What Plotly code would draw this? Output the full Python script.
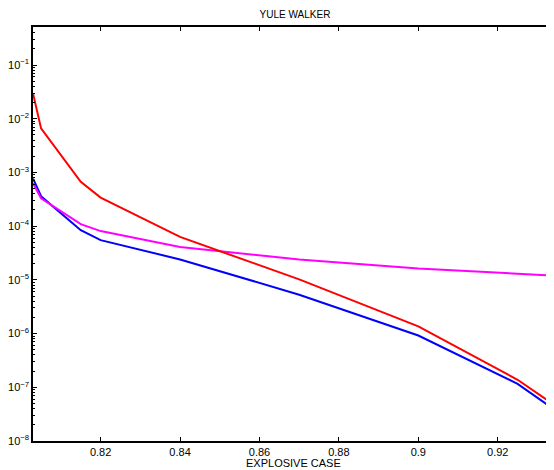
import plotly.graph_objects as go

# x positions
x = [0.803, 0.805, 0.815, 0.82, 0.84, 0.87, 0.9, 0.925, 0.935]

red = [0.029, 0.0066, 6.7e-4, 3.4e-4, 6.3e-5, 1.02e-5, 1.36e-6, 1.38e-7, 4.3e-8]
blue = [7.7e-4, 3.6e-4, 8.4e-5, 5.5e-5, 2.4e-5, 5.3e-6, 9.2e-7, 1.16e-7, 3.5e-8]
magenta = [6.3e-4, 3.3e-4, 1.09e-4, 8.1e-5, 4.1e-5, 2.4e-5, 1.62e-5, 1.31e-5, 1.19e-5]

xticks = [0.82, 0.84, 0.86, 0.88, 0.9, 0.92]
xticklabels = ["0.82", "0.84", "0.86", "0.88", "0.9", "0.92"]
decades = list(range(-8, 0))
yticks = [10.0 ** d for d in decades]
yticklabels = ["10<sup>−%d</sup>" % -d for d in decades]
yminor = [m * 10.0 ** d for d in decades for m in range(2, 10)]

font = dict(family="Liberation Sans, Arial, sans-serif", size=11, color="black")

fig = go.Figure()
for ys, col in [(blue, "#0000ff"), (magenta, "#ff00ff"), (red, "#ff0000")]:
    fig.add_trace(go.Scatter(x=x, y=ys, mode="lines", line=dict(color=col, width=2),
                             showlegend=False))

# invisible trace to activate the right-hand tick axis
fig.add_trace(go.Scatter(x=[x[0]], y=[red[0]], yaxis="y2", mode="lines",
                         showlegend=False, hoverinfo="skip", line=dict(width=0)))

# the page body adds an 8px margin, so the figure is sized to fit inside it
fig.update_layout(
    width=546, height=462,
    margin=dict(l=25, r=0, t=19, b=29),
    paper_bgcolor="white", plot_bgcolor="white",
    font=font,
    title=dict(text="YULE WALKER", x=0.5256, xanchor="center", y=0.987, yanchor="middle",
               font=dict(size=10)),
    xaxis=dict(range=[0.80297, 0.93417], tickvals=xticks, ticktext=xticklabels,
               ticks="inside", ticklen=4, tickcolor="black", showline=True, linecolor="black",
               linewidth=1.5, mirror="ticks", showgrid=False, zeroline=False,
               tickfont=dict(size=11), automargin=False),
    yaxis=dict(type="log", range=[-8, -0.292], tickvals=yticks, ticktext=yticklabels,
               ticks="inside", ticklen=4, tickcolor="black", showline=True, linecolor="black",
               linewidth=1.5, mirror=False, showgrid=False, zeroline=False,
               tickfont=dict(size=11), automargin=False,
               minor=dict(tickvals=yminor, ticks="inside", ticklen=2, tickcolor="black",
                          showgrid=False)),
    yaxis2=dict(type="log", range=[-8, -0.292], overlaying="y", side="right",
                tickvals=yticks, ticks="inside", ticklen=3, tickcolor="black",
                showticklabels=False, showline=False, showgrid=False, zeroline=False,
                automargin=False),
    annotations=[dict(text="EXPLOSIVE CASE", xref="paper", yref="paper",
                      x=0.5, y=-0.053, xanchor="center", yanchor="middle",
                      showarrow=False, font=dict(size=11))],
)

fig.write_html("out.html")
